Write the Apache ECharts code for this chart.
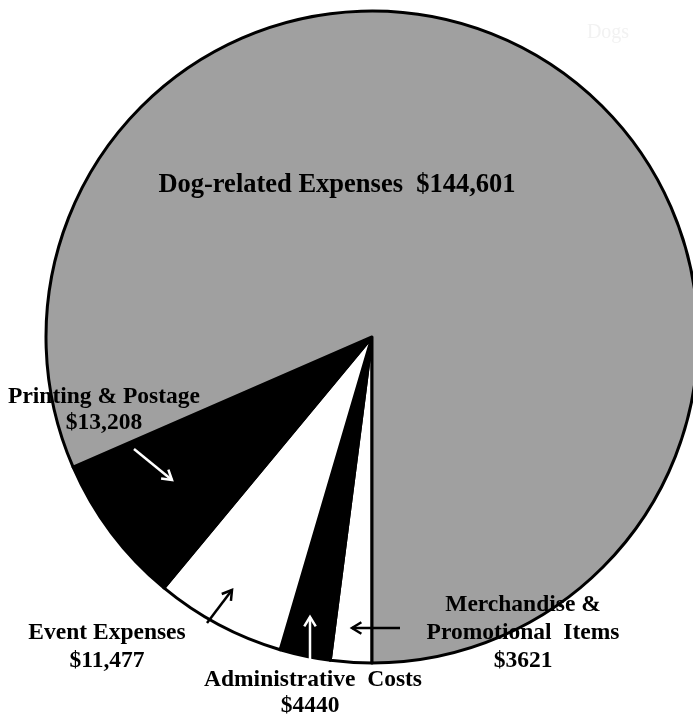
<!DOCTYPE html>
<html><head><meta charset="utf-8">
<script src="https://cdn.jsdelivr.net/npm/echarts@6/dist/echarts.min.js"></script>
<style>html,body{margin:0;padding:0;background:#fff}#c{width:693px;height:717px}</style>
</head><body><div id="c"></div>
<script>
const categories = ['Merchandise & Promotional Items', 'Administrative Costs', 'Event Expenses', 'Printing & Postage', 'Dog-related Expenses'];
const values = [3621, 4440, 11477, 13208, 144601];
const sliceColors = ['#ffffff', '#000000', '#ffffff', '#000000', '#a0a0a0'];

const chart = echarts.init(document.getElementById('c'), null, {renderer: 'canvas'});
const FONT = '"Liberation Serif", "Times New Roman", serif';
function txt(x, y, s, size, color) {
  return {type: 'text', z: 100, x: x, y: y, style: {text: s, font: 'bold ' + (size || 23.5) + 'px ' + FONT, fill: color || '#000', align: 'center', verticalAlign: 'middle'}, silent: true};
}
function arrow(x1, y1, x2, y2, color) {
  const a = Math.atan2(y2 - y1, x2 - x1), h = 11, s = 0.55;
  return [
    {type: 'line', z: 100, shape: {x1: x1, y1: y1, x2: x2, y2: y2}, style: {stroke: color, lineWidth: 2.5}, silent: true},
    {type: 'polyline', z: 100, shape: {points: [[x2 - h * Math.cos(a - s), y2 - h * Math.sin(a - s)], [x2, y2], [x2 - h * Math.cos(a + s), y2 - h * Math.sin(a + s)]]}, style: {stroke: color, lineWidth: 2.5, fill: null}, silent: true}
  ];
}
chart.setOption({
  animation: false,
  series: [{
    type: 'pie',
    center: [372, 337],
    radius: 326,
    startAngle: 270,
    clockwise: true,
    silent: true,
    label: {show: false},
    labelLine: {show: false},
    itemStyle: {borderColor: '#000', borderWidth: 3},
    data: categories.map((n, i) => ({name: n, value: values[i], itemStyle: {color: sliceColors[i]}}))
  }],
  graphic: [
    txt(337, 185, 'Dog-related Expenses  $144,601', 26.5),
    txt(104, 397, 'Printing & Postage'),
    txt(104, 423, '$13,208'),
    txt(107, 633, 'Event Expenses'),
    txt(107, 661, '$11,477'),
    txt(313, 680, 'Administrative  Costs'),
    txt(310, 706, '$4440'),
    txt(523, 605, 'Merchandise &'),
    txt(523, 633, 'Promotional  Items'),
    txt(523, 661, '$3621'),
    {type: 'text', z: 100, x: 608, y: 33, style: {text: 'Dogs', font: '20px ' + FONT, fill: '#f2f2f2', align: 'center', verticalAlign: 'middle'}, silent: true}
  ].concat(arrow(134, 449, 172, 480, '#fff'))
   .concat(arrow(207, 623, 232, 590, '#000'))
   .concat(arrow(310, 662, 310, 617, '#fff'))
   .concat(arrow(400, 628, 352, 628, '#000'))
});
</script></body></html>
